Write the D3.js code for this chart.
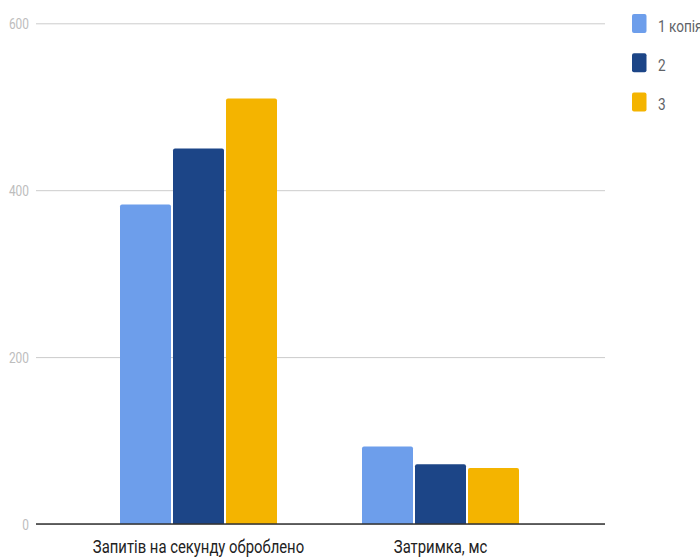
<!DOCTYPE html>
<html>
<head>
<meta charset="utf-8">
<script src="https://cdn.jsdelivr.net/npm/d3@7"></script>
<style>
  html, body { margin: 0; padding: 0; background: #fff; }
  svg { display: block; font-family: Roboto, "Noto Sans", sans-serif; }
</style>
</head>
<body>
<svg id="chart" width="700" height="557"></svg>
<script>
// Chart data
const categories = ["Запитів на секунду оброблено", "Затримка, мс"];
const seriesNames = ["1 копія", "2", "3"];
const seriesColors = ["#6d9eeb", "#1c4587", "#f4b400"];
const series1 = [383, 93];
const series2 = [450, 71.5];
const series3 = [510, 67];
const yTicks = [0, 200, 400, 600];

const seriesValues = [series1, series2, series3];
const rows = categories.map((c, i) => ({
  category: c,
  bars: seriesNames.map((s, j) => ({ series: s, value: seriesValues[j][i], color: seriesColors[j] }))
}));

const svg = d3.select("#chart");
const squeeze = 0.85; // horizontal text compression

const plotLeft = 36, plotRight = 605;
const y = d3.scaleLinear().domain([0, 600]).range([524, 23.3]);
const x0 = d3.scaleBand().domain(categories).range([77.5, 561.5]).padding(0);
const groupWidth = 157;
const x1 = d3.scaleBand().domain(seriesNames)
  .range([(x0.bandwidth() - groupWidth) / 2, (x0.bandwidth() + groupWidth) / 2])
  .paddingInner(2 / 53).paddingOuter(0);

// Gridlines and y tick labels
const yAxis = d3.axisLeft(y).tickValues(yTicks).tickSize(-(plotRight - plotLeft)).tickPadding(0);
const gy = svg.append("g").attr("transform", `translate(${plotLeft},0)`).call(yAxis);
gy.select(".domain").remove();
gy.selectAll(".tick line").attr("stroke", "#cccccc").attr("stroke-width", 1);
gy.selectAll(".tick text")
  .attr("x", 0)
  .attr("dy", null)
  .attr("y", 0)
  .attr("transform", `translate(-7,5) scale(${squeeze},1)`)
  .attr("fill", "#bdbdbd")
  .attr("font-size", 14)
  .attr("font-family", "Roboto, sans-serif")
  .attr("text-anchor", "end");

// Bars with rounded top corners
function barPath(xl, w, yt, yb, r) {
  r = Math.min(r, (yb - yt), w / 2);
  return `M${xl},${yb}V${yt + r}Q${xl},${yt} ${xl + r},${yt}H${xl + w - r}Q${xl + w},${yt} ${xl + w},${yt + r}V${yb}Z`;
}

const groups = svg.append("g").selectAll("g").data(rows).join("g")
  .attr("transform", d => `translate(${x0(d.category)},0)`);
groups.selectAll("path").data(d => d.bars).join("path")
  .attr("d", d => barPath(x1(d.series), x1.bandwidth(), y(d.value), y(0), 2))
  .attr("fill", d => d.color);

// Baseline
svg.append("line")
  .attr("x1", plotLeft).attr("x2", plotRight)
  .attr("y1", y(0)).attr("y2", y(0))
  .attr("stroke", "#333").attr("stroke-width", 1.5);

// Category labels
svg.append("g").selectAll("text").data(categories).join("text")
  .attr("transform", d => `translate(${x0(d) + x0.bandwidth() / 2},553) scale(0.825,1)`)
  .attr("text-anchor", "middle")
  .attr("font-size", 18)
  .attr("fill", "#222")
  .text(d => d);

// Legend (the first label runs past the right edge of the canvas)
const legend = svg.append("g").selectAll("g").data(seriesNames).join("g")
  .attr("transform", (d, i) => `translate(632,${14 + i * 39.3})`);
legend.append("rect")
  .attr("width", 14.5).attr("height", 19).attr("rx", 2)
  .attr("fill", (d, i) => seriesColors[i]);
legend.append("text")
  .attr("transform", `translate(26,17.5) scale(${squeeze},1)`)
  .attr("font-size", 16)
  .attr("fill", "#5f6368")
  .text(d => d);
</script>
</body>
</html>
